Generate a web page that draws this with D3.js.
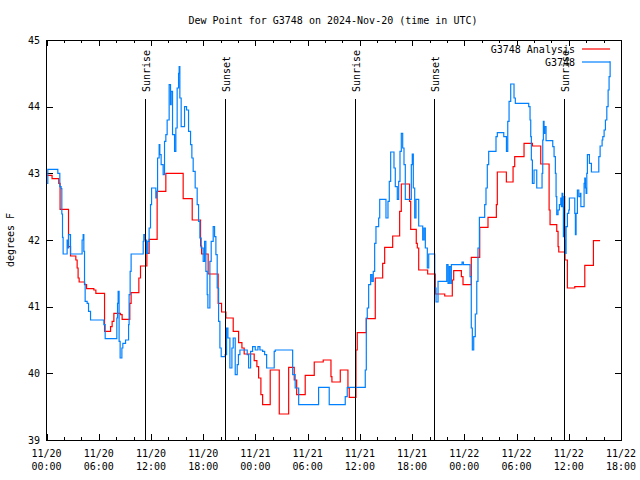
<!DOCTYPE html>
<html><head><meta charset="utf-8">
<script src="https://cdn.jsdelivr.net/npm/d3@7"></script>
<style>
body{margin:0;background:#fff}
svg{display:block}
text{font-family:"DejaVu Sans Mono","Liberation Mono",monospace;font-size:10px;fill:#000}
</style>
</head><body><svg id="c" width="640" height="480"></svg>
<script>
// ---------------- data ----------------
const chartTitle = "Dew Point for G3748 on 2024-Nov-20 (time in UTC)";
const yLabel = "degrees F";
const seriesNames = ["G3748 Analysis", "G3748"];
const seriesColors = ["#ff0000", "#0080ff"];
const startUTC = Date.UTC(2024, 10, 20, 0, 0);
const spanHours = 66;
const yDomain = [39, 45];
const yTicks = [39, 40, 41, 42, 43, 44, 45];
const xTickHours = [0, 6, 12, 18, 24, 30, 36, 42, 48, 54, 60, 66];
const xTickDates = ["11/20","11/20","11/20","11/20","11/21","11/21","11/21","11/21","11/22","11/22","11/22","11/22"];
const xTickTimes = ["00:00","06:00","12:00","18:00","00:00","06:00","12:00","18:00","00:00","06:00","12:00","18:00"];
const sunriseHours = [11.35, 35.47, 59.5];
const sunsetHours = [20.5, 44.55];

// G3748 Analysis (hours since 11/20 00:00 UTC, deg F)
const analysisHours = [0.07,0.64,1.41,1.56,2.53,2.76,3.37,3.52,3.63,3.75,4.37,4.6,5.44,5.67,6.67,7.36,7.54,7.74,8.5,8.69,9.57,9.72,10.61,10.8,11.53,11.79,12.71,13.71,15.7,16.74,17.7,17.82,18.57,19.72,20.11,20.61,21.45,22.07,22.45,22.71,23.86,24.17,24.37,24.63,24.83,25.7,26.74,27.82,28.46,28.74,29.72,30.76,31.79,32.68,32.79,33.75,34.63,34.78,35.55,35.7,36.74,37.77,38.62,38.85,39.77,40.57,40.76,41.71,41.84,42.48,42.6,42.76,43.79,44.67,45.75,46.62,46.78,47.66,47.85,48.8,49.77,50.72,51.68,51.79,52.83,53.6,53.79,54.86,55.82,56.78,57.74,57.85,58.62,58.77,58.85,59.57,59.84,60.69,61.84,62.83,63.6];
const analysisValues = [42.97,42.92,42.85,42.46,41.9,41.76,41.7,41.58,41.43,41.37,41.33,41.27,41.25,41.2,40.63,40.7,40.78,40.9,40.88,40.81,41.05,41.21,41.43,41.61,41.8,42.01,42.73,43.0,42.62,42.3,41.91,41.79,41.49,41.05,40.92,40.83,40.63,40.46,40.38,40.29,40.19,40.1,39.93,39.68,39.53,40.05,39.39,40.09,39.9,39.68,39.97,40.17,40.2,39.95,39.87,40.05,39.78,39.64,40.35,40.61,40.82,41.43,41.65,41.89,42.06,42.43,42.84,42.58,42.16,41.95,41.88,41.55,41.49,41.19,41.16,41.4,41.54,41.45,41.33,41.74,42.19,42.34,42.53,43.02,42.87,43.1,43.25,43.45,43.41,43.14,42.45,42.23,42.13,41.9,41.82,41.7,41.28,41.3,41.62,41.99,41.99];

// G3748 station observations
const stationHours = [0.07,0.15,1.3,1.53,1.68,1.76,1.84,1.91,2.37,2.45,2.53,2.76,4.09,4.21,4.29,4.37,4.44,4.67,4.83,5.06,6.59,6.74,8.08,8.16,8.23,8.34,8.46,8.66,8.77,9.08,9.43,9.49,9.61,9.72,11.11,11.18,11.33,11.49,11.64,11.79,11.95,12.07,12.56,12.64,12.76,12.94,13.02,13.17,13.4,13.56,13.71,13.86,14.09,14.25,14.32,14.48,14.71,14.86,15.01,15.17,15.24,15.32,15.47,15.86,16.09,16.32,16.55,16.7,16.85,17.08,17.31,17.47,17.62,17.77,18.0,18.16,18.31,18.46,18.54,18.77,18.92,19.15,19.31,19.46,19.61,19.77,19.92,20.07,20.53,20.69,20.84,21.07,21.3,21.45,21.68,21.91,22.05,22.22,23.06,23.22,23.45,23.68,23.98,24.29,24.52,24.83,25.06,25.29,26.16,26.28,28.28,28.57,28.97,31.26,32.48,34.32,34.55,36.62,36.74,36.85,37.01,37.24,37.39,37.54,37.7,37.85,38.16,38.28,39.0,39.23,39.38,39.54,39.92,40.07,40.3,40.46,40.61,40.76,40.92,41.07,41.22,41.91,42.02,42.14,42.3,42.45,42.76,43.22,43.37,43.52,43.75,43.91,44.6,44.75,44.98,45.98,46.13,46.28,46.44,46.51,47.74,47.89,48.66,48.8,48.92,49.08,49.26,49.43,49.57,49.73,50.34,50.49,50.64,50.8,51.64,51.79,52.53,52.84,52.99,53.14,53.33,53.71,53.86,55.4,55.55,55.63,55.7,55.82,56.01,56.32,56.93,57.01,57.08,57.16,57.24,57.39,58.16,58.31,58.46,58.54,58.62,58.77,58.92,59.08,59.15,59.23,59.31,59.38,59.46,59.54,59.61,59.69,59.84,60.0,60.07,60.69,60.76,60.84,60.99,61.15,61.32,61.39,61.76,61.84,61.91,61.99,62.07,62.14,62.37,62.6,63.45,63.6,63.83,63.91,64.06,64.21,64.37,64.52,64.63,64.75];
const stationValues = [42.85,43.06,43.0,42.8,42.77,42.39,42.04,41.79,42.0,41.88,42.08,41.79,42.0,42.08,41.83,41.34,41.08,41.05,40.93,40.8,40.73,40.52,40.83,41.05,41.23,40.48,40.23,40.38,40.45,40.5,40.73,41.18,41.53,41.79,41.98,42.08,42.0,41.8,41.98,42.18,42.53,42.78,42.63,42.73,43.23,43.43,43.28,43.13,42.98,43.48,43.58,43.8,44.33,44.03,44.23,43.58,43.33,43.68,44.28,44.5,44.6,44.13,43.7,44.0,43.95,43.63,43.43,43.23,43.03,42.78,42.53,42.28,42.03,41.88,41.68,41.98,41.53,41.18,40.98,41.68,41.98,42.2,42.05,41.78,41.28,40.78,40.38,40.25,40.28,40.68,40.53,40.08,40.38,40.53,39.98,40.13,40.28,40.35,40.28,40.08,40.33,40.4,40.35,40.4,40.35,40.33,40.28,40.08,40.33,40.35,39.98,39.78,39.53,39.79,39.53,39.65,39.79,40.05,40.83,40.98,41.33,41.48,41.38,41.53,41.95,42.2,42.33,42.61,42.33,42.58,42.88,43.32,43.08,42.8,42.61,42.88,43.33,43.6,43.38,43.13,42.61,43.13,43.29,42.78,42.33,42.61,42.21,42.0,42.18,41.88,41.58,41.79,41.28,41.07,41.38,41.63,41.35,41.6,41.35,41.63,41.67,41.63,41.45,40.68,40.35,40.55,40.89,41.38,41.88,42.34,42.53,42.78,43.13,43.33,43.55,43.61,43.55,43.33,43.78,44.08,44.34,44.13,44.05,44.0,43.8,43.55,43.2,42.85,43.05,42.78,43.0,43.5,43.78,43.6,43.7,43.49,43.4,43.25,43.0,42.65,42.38,42.45,42.53,42.63,42.5,42.7,42.5,42.05,42.65,42.0,41.8,42.2,42.4,42.45,42.63,42.4,42.08,42.4,42.75,42.65,42.7,42.5,42.85,42.93,42.78,42.7,43.0,43.28,43.15,43.02,43.25,43.41,43.5,43.55,43.65,43.8,44.0,44.25,44.45,44.68];

// ---------------- drawing ----------------
const toDate = h => new Date(startUTC + h * 3600e3);
const L = 46.5, R = 621, T = 40, B = 440;
const svg = d3.select("#c");
const x = d3.scaleUtc().domain([toDate(0), toDate(spanHours)]).range([L, R]);
const y = d3.scaleLinear().domain(yDomain).range([B, T]);

// title
svg.append("text").attr("x", 333).attr("y", 23.5).attr("text-anchor", "middle").text(chartTitle);
// y label
svg.append("text").attr("transform", "translate(14,240) rotate(-90)").attr("text-anchor", "middle").text(yLabel);

const minorHours = d3.range(0, spanHours + 0.1, 2).filter(h => h % 6 !== 0);
const gAx = svg.append("g").attr("shape-rendering", "crispEdges");
// bottom / top axes (ticks inward)
gAx.append("g").attr("transform", `translate(0,${B})`)
  .call(d3.axisTop(x).tickValues(xTickHours.map(toDate)).tickSize(6).tickFormat(""));
gAx.append("g").attr("transform", `translate(0,${B})`)
  .call(d3.axisTop(x).tickValues(minorHours.map(toDate)).tickSize(3).tickFormat(""));
gAx.append("g").attr("transform", `translate(0,${T})`)
  .call(d3.axisBottom(x).tickValues(xTickHours.map(toDate)).tickSize(6).tickFormat(""));
gAx.append("g").attr("transform", `translate(0,${T})`)
  .call(d3.axisBottom(x).tickValues(minorHours.map(toDate)).tickSize(3).tickFormat(""));
gAx.append("g").attr("transform", `translate(${L},0)`)
  .call(d3.axisRight(y).tickValues(yTicks).tickSize(6).tickFormat(""));
gAx.append("g").attr("transform", `translate(${R},0)`)
  .call(d3.axisLeft(y).tickValues(yTicks).tickSize(6).tickFormat(""));
gAx.selectAll(".domain").remove();
gAx.selectAll("line").attr("stroke", "#000");

// y tick labels
svg.append("g").selectAll("text").data(yTicks).join("text")
  .attr("x", 40).attr("y", d => y(d) + 3.5).attr("text-anchor", "end").text(d => d);
// x tick labels
const xl = svg.append("g").selectAll("text").data(xTickHours).join("text")
  .attr("text-anchor", "middle");
xl.append("tspan").attr("x", h => x(toDate(h))).attr("y", 457).text((h, i) => xTickDates[i]);
xl.append("tspan").attr("x", h => x(toDate(h))).attr("y", 470).text((h, i) => xTickTimes[i]);

// series
const line = d3.line().x(d => x(toDate(d[0]))).y(d => y(d[1])).curve(d3.curveStepAfter);
const analysis = analysisHours.map((h, i) => [h, analysisValues[i]]);
const station = stationHours.map((h, i) => [h, stationValues[i]]);
const clip = svg.append("clipPath").attr("id", "pc").append("rect")
  .attr("x", L).attr("y", T).attr("width", R - L).attr("height", B - T);
const gd = svg.append("g").attr("clip-path", "url(#pc)");
gd.append("path").datum(analysis).attr("d", line).attr("fill", "none")
  .attr("stroke", seriesColors[0]).attr("stroke-width", 1.2);
gd.append("path").datum(station).attr("d", line).attr("fill", "none")
  .attr("stroke", seriesColors[1]).attr("stroke-width", 1.2);

// sunrise / sunset markers
const events = sunriseHours.map(h => ({h, label: "Sunrise"}))
  .concat(sunsetHours.map(h => ({h, label: "Sunset"})));
const ge = svg.append("g");
ge.selectAll("line").data(events).join("line")
  .attr("x1", d => Math.round(x(toDate(d.h))) + 0.5).attr("x2", d => Math.round(x(toDate(d.h))) + 0.5)
  .attr("y1", 99).attr("y2", B).attr("stroke", "#000").attr("stroke-width", 1);
ge.selectAll("text").data(events).join("text")
  .attr("transform", d => `translate(${Math.round(x(toDate(d.h))) + 5},92) rotate(-90)`)
  .text(d => d.label);

// border
svg.append("rect").attr("x", L).attr("y", T).attr("width", R - L).attr("height", B - T)
  .attr("fill", "none").attr("stroke", "#000").attr("shape-rendering", "crispEdges");

// legend
const lg = svg.append("g");
seriesNames.forEach((n, i) => {
  const yy = 49 + i * 13;
  lg.append("text").attr("x", 575).attr("y", yy + 3.5).attr("text-anchor", "end").text(n);
  lg.append("line").attr("x1", 582).attr("x2", 610).attr("y1", yy).attr("y2", yy)
    .attr("stroke", seriesColors[i]).attr("stroke-width", 1.2);
});
</script>
</body></html>
